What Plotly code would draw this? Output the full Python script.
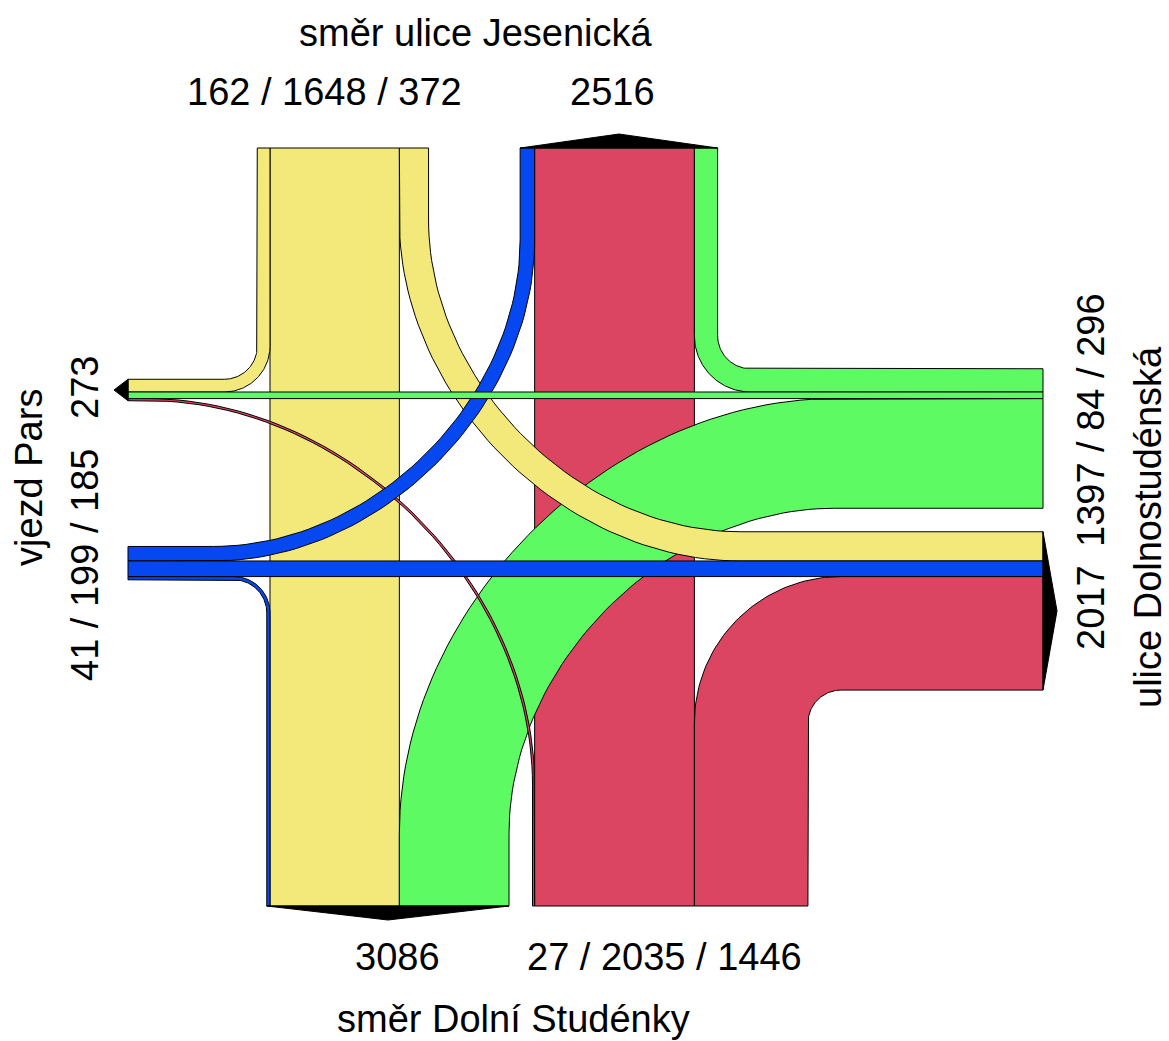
import numpy as np
import plotly.graph_objects as go

# ---------------- data (vehicles) ----------------
# flows from arm -> to arm
FROM_N = {"W": 162, "S": 1648, "E": 372}
FROM_E = {"N": 296, "W": 84, "S": 1397}
FROM_S = {"W": 27, "N": 2035, "E": 1446}
FROM_W = {"S": 41, "E": 199, "N": 185}

ARM_NAMES = {
    "N": "směr ulice Jesenická",
    "S": "směr Dolní Studénky",
    "W": "vjezd Pars",
    "E": "ulice Dolnostudénská",
}

COL = {"N": "#F2E97A", "E": "#5DFA64", "S": "#DB4561", "W": "#0548F2"}

# ---------------- layout constants ----------------
W_PX, H_PX = 1169, 1041
SCALE = 0.0785            # px per vehicle
TOP, BOTTOM, LEFT, RIGHT = 148, 906, 128, 1043
X_SB = 270                # left edge of N->S straight band
Y_WB = 392                # top edge of E->W straight band
MARGIN = 23.5
R_RIGHT = 33              # inner radius of right turns
R_LEFT = {"N": 341, "E": 435, "S": 387, "W": 321}   # outer radius of left turns
K_RIGHT, K_LEFT = 0.5523, 0.52
ARROW = 14
FONT = dict(family="Liberation Sans, Arial, sans-serif", size=38, color="black")


def w(c):
    return c * SCALE


X_SB_R = X_SB + w(FROM_N["S"])
gap_x = max(w(FROM_N["E"]) + w(FROM_W["N"]), w(FROM_E["S"]) + w(FROM_S["W"])) + MARGIN
X_NB = X_SB_R + gap_x
X_NB_R = X_NB + w(FROM_S["N"])
Y_WB_B = Y_WB + w(FROM_E["W"])
gap_y = max(w(FROM_S["W"]) + w(FROM_W["N"]), w(FROM_E["S"]) + w(FROM_N["E"])) + MARGIN
Y_EB = Y_WB_B + gap_y
Y_EB_B = Y_EB + w(FROM_W["E"])


def arc(cx, cy, r, th0, th1, k, n=60):
    a0, a1 = np.radians(th0), np.radians(th1)
    u0 = np.array([np.cos(a0), np.sin(a0)])
    u1 = np.array([np.cos(a1), np.sin(a1)])
    c = np.array([cx, cy])
    P0 = c + r * u0
    P3 = c + r * u1
    P1 = P0 + k * r * u1
    P2 = P3 + k * r * u0
    t = np.linspace(0, 1, n)[:, None]
    return (1 - t) ** 3 * P0 + 3 * (1 - t) ** 2 * t * P1 + 3 * (1 - t) * t ** 2 * P2 + t ** 3 * P3


def edge(cx, cy, r, th0, th1, start, end, k):
    pts = arc(cx, cy, r, th0, th1, k)
    p0, p3 = pts[0], pts[-1]
    s = (p0[0], start[1]) if start[0] == "y" else (start[1], p0[1])
    e = (p3[0], end[1]) if end[0] == "y" else (end[1], p3[1])
    return [s] + [tuple(p) for p in pts] + [e]


def band(cx, cy, ra, rb, th0, th1, start, end, k):
    a = edge(cx, cy, ra, th0, th1, start, end, k)
    b = edge(cx, cy, rb, th0, th1, start, end, k)
    pts = a + b[::-1] + [a[0]]
    return [p[0] for p in pts], [p[1] for p in pts]


def rect(x0, x1, y0, y1):
    return [x0, x1, x1, x0, x0], [y0, y0, y1, y1, y0]


fig = go.Figure()


def add_poly(xs, ys, color, lw=1):
    fig.add_trace(go.Scatter(x=xs, y=ys, mode="lines", fill="toself",
                             fillcolor=color, line=dict(color="black", width=lw),
                             hoverinfo="skip", showlegend=False))


# straight N-S bands
add_poly(*rect(X_SB, X_SB_R, TOP, BOTTOM), COL["N"])
add_poly(*rect(X_NB, X_NB_R, TOP, BOTTOM), COL["S"])

# right turns
r0 = R_RIGHT
c = (X_SB - w(FROM_N["W"]) - r0, Y_WB - w(FROM_N["W"]) - r0)
add_poly(*band(c[0], c[1], r0, r0 + w(FROM_N["W"]), 0, 90, ("y", TOP), ("x", LEFT), K_RIGHT), COL["N"])
c = (X_NB_R + w(FROM_E["N"]) + r0, Y_WB - w(FROM_E["N"]) - r0)
add_poly(*band(c[0], c[1], r0, r0 + w(FROM_E["N"]), 90, 180, ("x", RIGHT), ("y", TOP), K_RIGHT), COL["E"])
c = (X_NB_R + w(FROM_S["E"]) + r0, Y_EB_B + w(FROM_S["E"]) + r0)
add_poly(*band(c[0], c[1], r0, r0 + w(FROM_S["E"]), 180, 270, ("y", BOTTOM), ("x", RIGHT), K_RIGHT), COL["S"])
c = (X_SB - w(FROM_W["S"]) - r0, Y_EB_B + w(FROM_W["S"]) + r0)
add_poly(*band(c[0], c[1], r0, r0 + w(FROM_W["S"]), 270, 360, ("x", LEFT), ("y", BOTTOM), K_RIGHT), COL["W"])

# left turns
R = R_LEFT["E"]
add_poly(*band(X_SB_R + R, Y_WB_B + R, R, R - w(FROM_E["S"]), 270, 180, ("x", RIGHT), ("y", BOTTOM), K_LEFT), COL["E"])
R = R_LEFT["N"]
add_poly(*band(X_SB_R + R, Y_EB - R, R, R - w(FROM_N["E"]), 180, 90, ("y", TOP), ("x", RIGHT), K_LEFT), COL["N"])
R = R_LEFT["S"]
add_poly(*band(X_NB - R, Y_WB_B + R, R, R - w(FROM_S["W"]), 0, -90, ("y", BOTTOM), ("x", LEFT), K_LEFT), COL["S"])
R = R_LEFT["W"]
add_poly(*band(X_NB - R, Y_EB - R, R, R - w(FROM_W["N"]), 90, 0, ("x", LEFT), ("y", TOP), K_LEFT), COL["W"])

# straight E-W bands
add_poly(*rect(LEFT, RIGHT, Y_WB, Y_WB_B), COL["E"])
add_poly(*rect(LEFT, RIGHT, Y_EB, Y_EB_B), COL["W"])

# outgoing arrows
n_out = (X_NB - w(FROM_W["N"]), X_NB_R + w(FROM_E["N"]))
s_out = (X_SB - w(FROM_W["S"]), X_SB_R + w(FROM_E["S"]))
w_out = (Y_WB - w(FROM_N["W"]), Y_WB_B + w(FROM_S["W"]))
e_out = (Y_EB - w(FROM_N["E"]), Y_EB_B + w(FROM_S["E"]))
add_poly([n_out[0], sum(n_out) / 2, n_out[1], n_out[0]], [TOP, TOP - ARROW, TOP, TOP], "black")
add_poly([s_out[0], sum(s_out) / 2, s_out[1], s_out[0]], [BOTTOM, BOTTOM + ARROW, BOTTOM, BOTTOM], "black")
add_poly([LEFT, LEFT - ARROW, LEFT, LEFT], [w_out[0], sum(w_out) / 2, w_out[1], w_out[0]], "black")
add_poly([RIGHT, RIGHT + ARROW, RIGHT, RIGHT], [e_out[0], sum(e_out) / 2, e_out[1], e_out[0]], "black")

# ---------------- labels ----------------
def j(vals):
    return " / ".join(str(v) for v in vals)


out_N = FROM_W["N"] + FROM_S["N"] + FROM_E["N"]
out_S = FROM_W["S"] + FROM_N["S"] + FROM_E["S"]
out_W = FROM_N["W"] + FROM_E["W"] + FROM_S["W"]
out_E = FROM_N["E"] + FROM_W["E"] + FROM_S["E"]

labels = [
    (ARM_NAMES["N"], 476, 33, 0),
    (j([FROM_N["W"], FROM_N["S"], FROM_N["E"]]), 324, 92, 0),
    (str(out_N), 612, 92, 0),
    (str(out_S), 397, 957, 0),
    (j([FROM_S["W"], FROM_S["N"], FROM_S["E"]]), 664, 957, 0),
    (ARM_NAMES["S"], 513, 1019, 0),
    (ARM_NAMES["W"], 29, 478, -90),
    (str(out_W), 85, 388, -90),
    (j([FROM_W["S"], FROM_W["E"], FROM_W["N"]]), 85, 565, -90),
    (j([FROM_E["S"], FROM_E["W"], FROM_E["N"]]), 1091, 420, -90),
    (str(out_E), 1091, 608, -90),
    (ARM_NAMES["E"], 1148, 527, -90),
]
for text, x, y, ang in labels:
    fig.add_annotation(x=x, y=y, text=text, showarrow=False, textangle=ang,
                       xanchor="center", yanchor="middle", font=FONT)

fig.update_layout(
    width=W_PX, height=H_PX, autosize=False,
    margin=dict(l=0, r=0, t=0, b=0),
    paper_bgcolor="white", plot_bgcolor="white",
    xaxis=dict(range=[0, W_PX], visible=False, fixedrange=True),
    yaxis=dict(range=[H_PX, 0], visible=False, fixedrange=True),
)
fig.write_html("out.html", config={"displayModeBar": False},
               post_script="document.body.style.margin='0';document.body.style.overflow='hidden';")
